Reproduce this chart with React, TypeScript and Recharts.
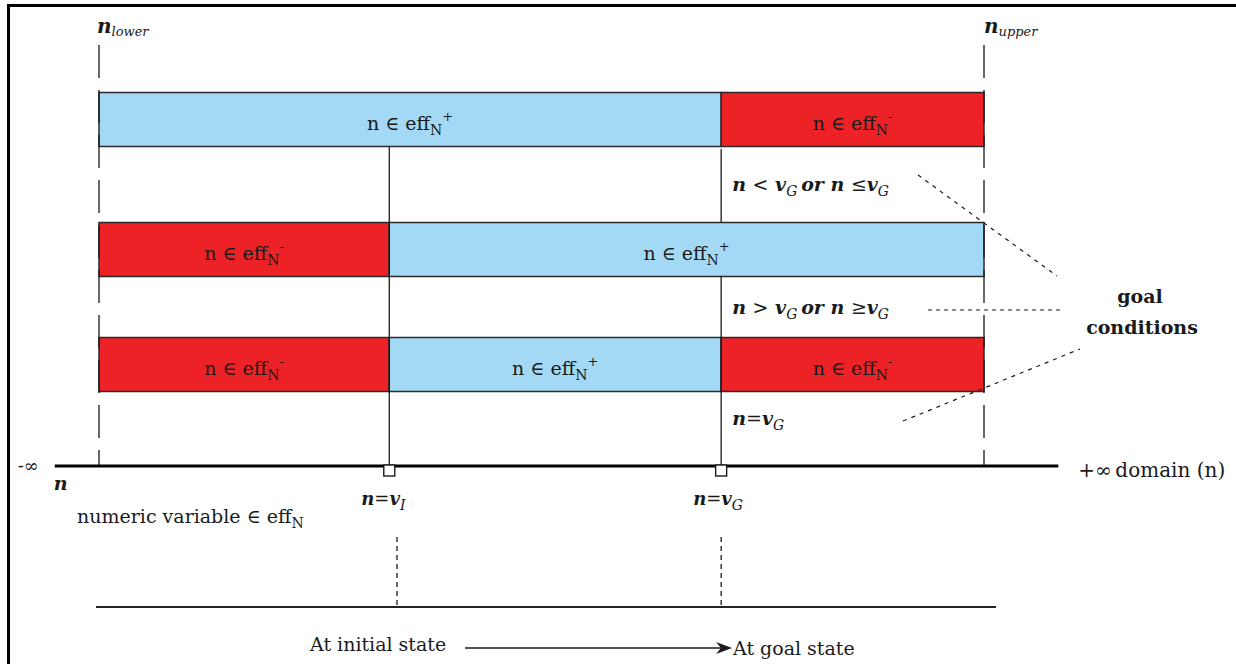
import React from 'react';
import {
  ComposedChart,
  Bar,
  XAxis,
  YAxis,
  Cell,
  LabelList,
  ReferenceLine,
  ReferenceDot,
} from 'recharts';

// ---------------- data ----------------
const N_LOWER = 0;
const V_I = 32.8;
const V_G = 70.3;
const N_UPPER = 100;
const AXIS_ENDS = [-5, 108.4]; // drawn ends of the domain axis (-inf .. +inf)

const GOAL_CONDITIONS = ['lt', 'gt', 'eq'];
const ROW_BREAKS = [
  [N_LOWER, V_G, N_UPPER],
  [N_LOWER, V_I, N_UPPER],
  [N_LOWER, V_I, V_G, N_UPPER],
];
const ROW_SIGNS = [
  ['+', '-'],
  ['-', '+'],
  ['-', '+', '-'],
];
const MARKED_VALUES = [V_I, V_G];
const MARK_SUBSCRIPTS = ['I', 'G'];

// ---------------- layout ----------------
const W = 1236;
const H = 664;
const X_LOW_PX = 99;
const X_UP_PX = 984;
const K = (X_UP_PX - X_LOW_PX) / (N_UPPER - N_LOWER);
const toN = (px: number) => N_LOWER + (px - X_LOW_PX) / K;
const X_DOMAIN = [toN(0), toN(W)];
const ROW_CENTER = [119, 249, 364];
const ROW_H = 54;
const AXIS_Y = 466;
const GOAL_LABEL_Y = [191, 314, 425];

const FONT = "'DejaVu Serif', 'Liberation Serif', serif";
const BLUE = '#A3D9F5';
const RED = '#EC2227';
const INK = '#1a1a1a';

const table = GOAL_CONDITIONS.map((g, i) => {
  const b = ROW_BREAKS[i];
  const row: any = { goal: g, y: ROW_CENTER[i] };
  for (let k = 0; k < 3; k++) {
    row['s' + k] = b[k + 1] !== undefined ? b[k + 1] - b[k] : 0;
    row['sign' + k] = ROW_SIGNS[i][k] || '';
  }
  return row;
});

const EffLabel = (props: any) => {
  const { x, y, width, height, value } = props;
  if (!value || !width) return null;
  const cx = x + width / 2;
  const cy = y + height / 2;
  return (
    <text x={cx} y={cy + 10} textAnchor="middle" fontFamily={FONT} fontSize={19} fill={INK}>
      {'n \u2208 eff'}
      <tspan dy={5} fontSize={14}>N</tspan>
      <tspan dy={-14} fontSize={13}>{value}</tspan>
    </text>
  );
};

const sub = (s: string) => (
  <>
    <tspan dy={5} fontSize={14} fontWeight="normal">{s}</tspan>
    <tspan dy={-5}>{'\u2009'}</tspan>
  </>
);
const op = (s: string) => (
  <tspan fontWeight="normal" fontStyle="normal">{s}</tspan>
);

const goalText = (kind: string, x: number, y: number) => {
  let body: any;
  if (kind === 'lt') {
    body = (
      <>
        <tspan>{'n '}</tspan>{op('<')}<tspan>{' v'}</tspan>{sub('G')}
        <tspan>{'or n '}</tspan>{op('\u2264')}<tspan>{'v'}</tspan>{sub('G')}
      </>
    );
  } else if (kind === 'gt') {
    body = (
      <>
        <tspan>{'n '}</tspan>{op('>')}<tspan>{' v'}</tspan>{sub('G')}
        <tspan>{'or n '}</tspan>{op('\u2265')}<tspan>{'v'}</tspan>{sub('G')}
      </>
    );
  } else {
    body = (
      <>
        <tspan>{'n'}</tspan>{op('=')}<tspan>{'v'}</tspan>{sub('G')}
      </>
    );
  }
  return (
    <text x={x} y={y} fontFamily={FONT} fontSize={19} fontWeight="bold" fontStyle="italic" fill={INK}>
      {body}
    </text>
  );
};

type Note = { x: number; y: number; render: (cx: number, cy: number) => any };

const notes: Note[] = [
  {
    x: N_LOWER,
    y: 33,
    render: (cx, cy) => (
      <text x={cx - 2} y={cy} fontFamily={FONT} fill={INK}>
        <tspan fontSize={20} fontWeight="bold" fontStyle="italic">n</tspan>
        <tspan fontSize={13} fontStyle="italic" dy={3}>lower</tspan>
      </text>
    ),
  },
  {
    x: N_UPPER,
    y: 33,
    render: (cx, cy) => (
      <text x={cx} y={cy} fontFamily={FONT} fill={INK}>
        <tspan fontSize={20} fontWeight="bold" fontStyle="italic">n</tspan>
        <tspan fontSize={13} fontStyle="italic" dy={3}>upper</tspan>
      </text>
    ),
  },
  {
    x: AXIS_ENDS[0],
    y: AXIS_Y + 6,
    render: (cx, cy) => (
      <text x={cx - 37} y={cy} fontFamily={FONT} fontSize={18} fill={INK}>-∞</text>
    ),
  },
  {
    x: AXIS_ENDS[0],
    y: 490,
    render: (cx, cy) => (
      <text x={cx - 1} y={cy} fontFamily={FONT} fontSize={19} fontWeight="bold" fontStyle="italic" fill={INK}>n</text>
    ),
  },
  {
    x: AXIS_ENDS[1],
    y: AXIS_Y + 11,
    render: (cx, cy) => (
      <text y={cy} fontFamily={FONT} fontSize={20} fill={INK}>
        <tspan x={cx + 20}>+∞</tspan>
        <tspan x={cx + 57}>domain (n)</tspan>
      </text>
    ),
  },
  {
    x: N_LOWER,
    y: 523,
    render: (cx, cy) => (
      <text x={cx - 22} y={cy} fontFamily={FONT} fontSize={19} fill={INK}>
        {'numeric variable \u2208 eff'}
        <tspan dy={5} fontSize={14}>N</tspan>
      </text>
    ),
  },
  {
    x: toN(1140),
    y: 303,
    render: (cx, cy) => (
      <text x={cx} y={cy} textAnchor="middle" fontFamily={FONT} fontSize={19} fontWeight="bold" fill={INK}>goal</text>
    ),
  },
  {
    x: toN(1142),
    y: 334,
    render: (cx, cy) => (
      <text x={cx} y={cy} textAnchor="middle" fontFamily={FONT} fontSize={19} fontWeight="bold" fill={INK}>conditions</text>
    ),
  },
  {
    x: toN(310),
    y: 651,
    render: (cx, cy) => (
      <text x={cx} y={cy} fontFamily={FONT} fontSize={19} fill={INK}>At initial state</text>
    ),
  },
  {
    x: toN(733),
    y: 655,
    render: (cx, cy) => (
      <text x={cx} y={cy} fontFamily={FONT} fontSize={19} fill={INK}>At goal state</text>
    ),
  },
  {
    x: toN(732),
    y: 648,
    render: (cx, cy) => (
      <polygon
        points={`${cx},${cy} ${cx - 16},${cy - 6} ${cx - 11},${cy} ${cx - 16},${cy + 6}`}
        fill={INK}
      />
    ),
  },
];

const dashedBoundary = [N_LOWER, N_UPPER];

export default function App() {
  return (
    <div style={{ position: 'absolute', left: 0, top: 0, width: W, height: H, background: '#fff' }}>
      <ComposedChart
        width={W}
        height={H}
        data={table}
        layout="vertical"
        margin={{ top: 0, right: 0, bottom: 0, left: 0 }}
      >
        <XAxis type="number" domain={X_DOMAIN} hide allowDataOverflow />
        <YAxis type="number" dataKey="y" domain={[0, H]} hide allowDataOverflow ticks={ROW_CENTER} />

        {/* n_lower / n_upper dash boundaries */}
        {dashedBoundary.map((v, i) => (
          <ReferenceLine
            key={'b' + i}
            segment={[{ x: v, y: 45 }, { x: v, y: AXIS_Y }]}
            stroke={INK}
            strokeWidth={1.3}
            strokeDasharray="33 12"
            ifOverflow="visible"
          />
        ))}

        {/* v_I solid line */}
        <ReferenceLine
          segment={[{ x: V_I, y: ROW_CENTER[0] + ROW_H / 2 }, { x: V_I, y: AXIS_Y }]}
          stroke={INK}
          strokeWidth={1.3}
          ifOverflow="visible"
        />
        {/* v_G solid line (broken by middle row) */}
        <ReferenceLine
          segment={[{ x: V_G, y: ROW_CENTER[0] + ROW_H / 2 + 3 }, { x: V_G, y: ROW_CENTER[1] - ROW_H / 2 }]}
          stroke={INK}
          strokeWidth={1.3}
          ifOverflow="visible"
        />
        <ReferenceLine
          segment={[{ x: V_G, y: ROW_CENTER[1] + ROW_H / 2 }, { x: V_G, y: AXIS_Y }]}
          stroke={INK}
          strokeWidth={1.3}
          ifOverflow="visible"
        />

        {/* domain axis */}
        <ReferenceLine
          segment={[{ x: AXIS_ENDS[0], y: AXIS_Y }, { x: AXIS_ENDS[1], y: AXIS_Y }]}
          stroke="#000"
          strokeWidth={3}
          ifOverflow="visible"
        />

        {/* pointers to goal conditions */}
        <ReferenceLine
          segment={[{ x: toN(918), y: 175 }, { x: toN(1057), y: 276 }]}
          stroke={INK}
          strokeWidth={1.2}
          strokeDasharray="4 5"
          ifOverflow="visible"
        />
        <ReferenceLine
          segment={[{ x: toN(928), y: 310 }, { x: toN(1062), y: 310 }]}
          stroke={INK}
          strokeWidth={1.2}
          strokeDasharray="4 4"
          ifOverflow="visible"
        />
        <ReferenceLine
          segment={[{ x: toN(903), y: 421 }, { x: toN(1080), y: 349 }]}
          stroke={INK}
          strokeWidth={1.2}
          strokeDasharray="4 5"
          ifOverflow="visible"
        />

        {/* bottom timeline */}
        <ReferenceLine
          segment={[{ x: toN(96), y: 607 }, { x: toN(996), y: 607 }]}
          stroke="#222"
          strokeWidth={2}
          ifOverflow="visible"
        />
        <ReferenceLine
          segment={[{ x: toN(397), y: 537 }, { x: toN(397), y: 606 }]}
          stroke={INK}
          strokeWidth={1.3}
          strokeDasharray="5 4"
          ifOverflow="visible"
        />
        <ReferenceLine
          segment={[{ x: V_G, y: 537 }, { x: V_G, y: 606 }]}
          stroke={INK}
          strokeWidth={1.3}
          strokeDasharray="5 4"
          ifOverflow="visible"
        />
        <ReferenceLine
          segment={[{ x: toN(465), y: 648 }, { x: toN(722), y: 648 }]}
          stroke={INK}
          strokeWidth={1.4}
          ifOverflow="visible"
        />

        {[0, 1, 2].map((k) => (
          <Bar
            key={'s' + k}
            dataKey={'s' + k}
            stackId="r"
            barSize={ROW_H}
            isAnimationActive={false}
            stroke="#2a2a2a"
            strokeWidth={1.5}
          >
            {table.map((r: any, i: number) => (
              <Cell key={i} fill={r['sign' + k] === '+' ? BLUE : RED} />
            ))}
            <LabelList dataKey={'sign' + k} content={EffLabel} />
          </Bar>
        ))}

        {/* markers on axis */}
        {MARKED_VALUES.map((v, i) => (
          <ReferenceDot
            key={'m' + i}
            x={v}
            y={AXIS_Y}
            r={0}
            ifOverflow="visible"
            shape={(p: any) => (
              <rect x={p.cx - 5.5} y={p.cy - 1} width={11} height={11} fill="#fff" stroke={INK} strokeWidth={1.4} />
            )}
          />
        ))}
        {MARKED_VALUES.map((v, i) => (
          <ReferenceDot
            key={'ml' + i}
            x={v}
            y={505}
            r={0}
            ifOverflow="visible"
            shape={(p: any) => (
              <text x={p.cx - 28} y={p.cy} fontFamily={FONT} fontSize={18} fontWeight="bold" fontStyle="italic" fill={INK}>
                <tspan>n</tspan>
                {op('=')}
                <tspan>v</tspan>
                <tspan dy={5} fontSize={14} fontWeight="normal">{MARK_SUBSCRIPTS[i]}</tspan>
              </text>
            )}
          />
        ))}

        {/* goal condition labels */}
        {GOAL_CONDITIONS.map((g, i) => (
          <ReferenceDot
            key={'g' + i}
            x={V_G}
            y={GOAL_LABEL_Y[i]}
            r={0}
            ifOverflow="visible"
            shape={(p: any) => goalText(g, p.cx + 11, p.cy)}
          />
        ))}

        {notes.map((nt, i) => (
          <ReferenceDot
            key={'n' + i}
            x={nt.x}
            y={nt.y}
            r={0}
            ifOverflow="visible"
            shape={(p: any) => nt.render(p.cx, p.cy)}
          />
        ))}
      </ComposedChart>
      <div
        style={{
          position: 'absolute',
          left: 7,
          top: 4,
          width: W - 7,
          height: H - 4,
          borderTop: '3px solid #000',
          borderLeft: '3px solid #000',
          boxSizing: 'border-box',
          pointerEvents: 'none',
        }}
      />
    </div>
  );
}
